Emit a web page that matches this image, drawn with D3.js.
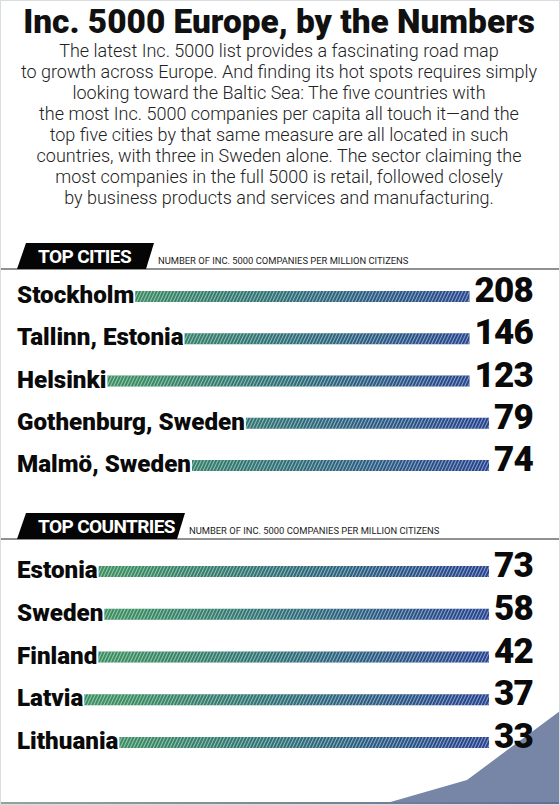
<!DOCTYPE html>
<html>
<head>
<meta charset="utf-8">
<script src="https://cdn.jsdelivr.net/npm/d3@7"></script>
<style>
  html, body { margin: 0; padding: 0; background: #fff; }
  svg { display: block; font-family: Roboto, "Noto Sans", sans-serif; }
</style>
</head>
<body>
<script>
const title = "Inc. 5000 Europe, by the Numbers";
const intro = [
  "The latest Inc. 5000 list provides a fascinating road map",
  "to growth across Europe. And finding its hot spots requires simply",
  "looking toward the Baltic Sea: The five countries with",
  "the most Inc. 5000 companies per capita all touch it\u2014and the",
  "top five cities by that same measure are all located in such",
  "countries, with three in Sweden alone. The sector claiming the",
  "most companies in the full 5000 is retail, followed closely",
  "by business products and services and manufacturing."
];
const subtitle = "NUMBER OF INC. 5000 COMPANIES PER MILLION CITIZENS";

const cities = ["Stockholm", "Tallinn, Estonia", "Helsinki", "Gothenburg, Sweden", "Malmö, Sweden"];
const cityValues = [208, 146, 123, 79, 74];

const countries = ["Estonia", "Sweden", "Finland", "Latvia", "Lithuania"];
const countryValues = [73, 58, 42, 37, 33];

function main() {
  const width = 560, height = 805;

  const svg = d3.select("body").append("svg")
    .attr("width", width)
    .attr("height", height);

  const defs = svg.append("defs");

  // green -> blue across the page, shared by every bar
  const grad = defs.append("linearGradient")
    .attr("id", "barGrad")
    .attr("gradientUnits", "userSpaceOnUse")
    .attr("x1", 120).attr("x2", 480).attr("y1", 0).attr("y2", 0);
  grad.append("stop").attr("offset", "0%").attr("stop-color", "#3c8f62");
  grad.append("stop").attr("offset", "45%").attr("stop-color", "#2f7078");
  grad.append("stop").attr("offset", "100%").attr("stop-color", "#274590");

  const hatch = defs.append("pattern")
    .attr("id", "hatch")
    .attr("patternUnits", "userSpaceOnUse")
    .attr("width", 3).attr("height", 3)
    .attr("patternTransform", "rotate(25)");
  hatch.append("rect").attr("width", 0.9).attr("height", 3).attr("fill", "#fff").attr("opacity", 0.55);

  const stripGrad = defs.append("linearGradient").attr("id", "stripGrad");
  stripGrad.append("stop").attr("offset", "0%").attr("stop-color", "#8ea69a");
  stripGrad.append("stop").attr("offset", "100%").attr("stop-color", "#5f6f98");

  // bottom-right decoration
  svg.append("path")
    .attr("d", "M380,805 L467,780 L560,711 L560,805 Z")
    .attr("fill", "#7785a7");
  svg.append("rect")
    .attr("x", 0).attr("y", 802).attr("width", width).attr("height", 3)
    .attr("fill", "url(#stripGrad)");

  // title + intro
  svg.append("text")
    .attr("x", width / 2 - 1).attr("y", 33)
    .attr("text-anchor", "middle")
    .attr("font-size", 33.4).attr("font-weight", 900)
    .attr("fill", "#111")
    .text(title);

  const lineY = d3.scalePoint().domain(d3.range(intro.length)).range([57, 204]);
  svg.append("g").selectAll("text")
    .data(intro)
    .join("text")
    .attr("x", width / 2 - 1)
    .attr("y", (d, i) => lineY(i))
    .attr("text-anchor", "middle")
    .attr("font-size", 18).attr("font-weight", 300)
    .attr("fill", "#222")
    .text(d => d);

  section({
    label: "TOP CITIES", names: cities, values: cityValues,
    top: 243, rule: 269, tabRight: 154, rows: [303, 472]
  });
  section({
    label: "TOP COUNTRIES", names: countries, values: countryValues,
    top: 513, rule: 539, tabRight: 185, rows: [578, 749]
  });

  function section(cfg) {
    const g = svg.append("g");
    const h = cfg.rule - cfg.top;

    g.append("line")
      .attr("x1", 0).attr("x2", width)
      .attr("y1", cfg.rule).attr("y2", cfg.rule)
      .attr("stroke", "#6d6d6d").attr("stroke-width", 1.5);

    g.append("path")
      .attr("d", `M17,${cfg.rule} L26,${cfg.top} L${cfg.tabRight},${cfg.top} L${cfg.tabRight - 8},${cfg.rule} Z`)
      .attr("fill", "#050505");

    g.append("text")
      .attr("x", 38).attr("y", cfg.top + h / 2 + 7)
      .attr("font-size", 19).attr("font-weight", 700)
      .attr("letter-spacing", -0.6)
      .attr("fill", "#fff")
      .text(cfg.label);

    g.append("text")
      .attr("x", cfg.tabRight + 4).attr("y", cfg.rule - 5)
      .attr("font-size", 9.4)
      .attr("fill", "#222")
      .text(subtitle);

    const y = d3.scalePoint().domain(cfg.names).range(cfg.rows);
    const rows = cfg.names.map((n, i) => ({ name: n, value: cfg.values[i] }));

    const row = g.selectAll("g.row")
      .data(rows)
      .join("g")
      .attr("class", "row")
      .attr("transform", d => `translate(0,${y(d.name)})`);

    const names = row.append("text")
      .attr("x", 17).attr("y", 0)
      .attr("font-size", 24.2).attr("font-weight", 900)
      .attr("fill", "#0a0a0a")
      .text(d => d.name);

    const vals = row.append("text")
      .attr("x", 533).attr("y", -1)
      .attr("text-anchor", "end")
      .attr("font-size", 35).attr("font-weight", 900)
      .attr("letter-spacing", -0.8)
      .attr("fill", "#0a0a0a")
      .text(d => d.value);

    // leader bars run from end of the name to the start of the number
    names.each(function(d) { d.x0 = 17 + this.getComputedTextLength() + 1; });
    vals.each(function(d) { d.x1 = 533 - this.getComputedTextLength() - 5; });

    row.insert("rect", "text")
      .attr("x", d => d.x0).attr("y", -12)
      .attr("width", d => Math.max(0, d.x1 - d.x0)).attr("height", 11)
      .attr("fill", "url(#barGrad)");
    row.insert("rect", "text")
      .attr("x", d => d.x0).attr("y", -12)
      .attr("width", d => Math.max(0, d.x1 - d.x0)).attr("height", 11)
      .attr("fill", "url(#hatch)");
  }

  // faint frame
  svg.append("rect")
    .attr("x", 0.5).attr("y", 0.5).attr("width", width - 1).attr("height", height - 1)
    .attr("fill", "none").attr("stroke", "#d8dde2");
}

window.addEventListener("load", main);
</script>
</body>
</html>
